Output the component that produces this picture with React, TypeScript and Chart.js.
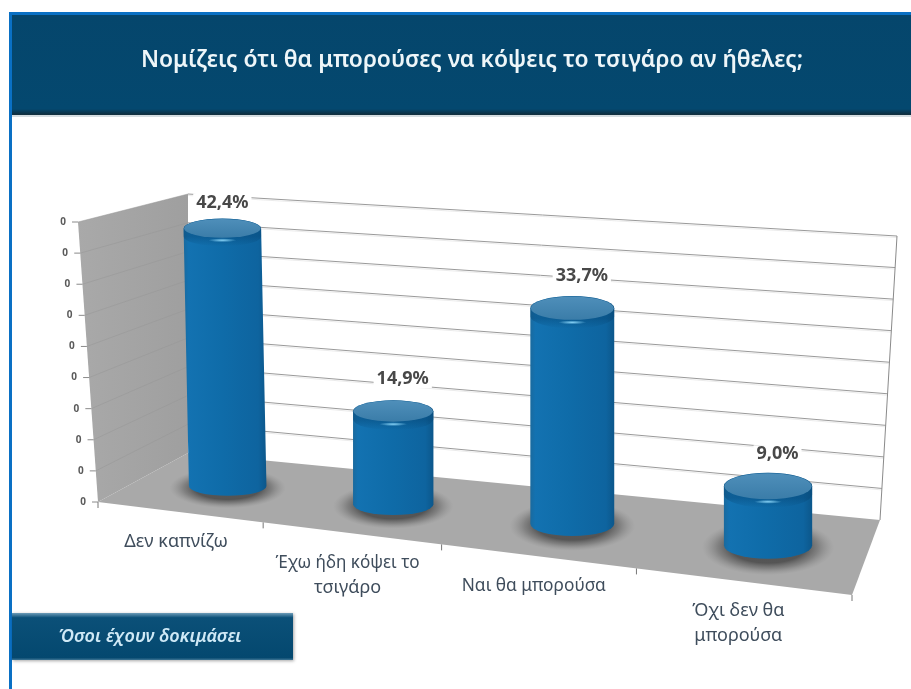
import React, { useEffect, useRef } from "react";
import { Chart, registerables } from "chart.js";

Chart.register(...registerables);

const titleText = "Νομίζεις ότι θα μπορούσες να κόψεις το τσιγάρο αν ήθελες;";
const badgeText = "Όσοι έχουν δοκιμάσει";
const categories = [["Δεν καπνίζω"], ["Έχω ήδη κόψει το", "τσιγάρο"], ["Ναι θα μπορούσα"], ["Όχι δεν θα", "μπορούσα"]];
const values = [42.4, 14.9, 33.7, 9.0];
const valueLabels = ["42,4%", "14,9%", "33,7%", "9,0%"];
const yTickLabels = ["0", "0", "0", "0", "0", "0", "0", "0", "0", "0"];
const yMax = 45;
const yStep = 5;

// view of the 3D box: floor corners and the upward vector of each corner
const FL = [98, 502], FR = [852, 595], BR = [880, 520], BL = [188, 453];
const UFL = [-20, -280], UFR = [28, -313], UBR = [17, -284], UBL = [0, -259];
const PERSPECTIVE = 0.6;
const BAR_SHIFT = 0.008;

function floorPoint(s: number, w: number) {
  const [x0, y0] = FL, [x1, y1] = FR, [x2, y2] = BR, [x3, y3] = BL;
  const dx1 = x1 - x2, dx2 = x3 - x2, sx = x0 - x1 + x2 - x3;
  const dy1 = y1 - y2, dy2 = y3 - y2, sy = y0 - y1 + y2 - y3;
  const den = dx1 * dy2 - dx2 * dy1;
  const g = (sx * dy2 - dx2 * sy) / den;
  const h = (dx1 * sy - sx * dy1) / den;
  const a = x1 - x0 + g * x1, b = x3 - x0 + h * x3;
  const d = y1 - y0 + g * y1, e = y3 - y0 + h * y3;
  const q = g * s + h * w + 1;
  const hx = (a * s + b * w + x0) / q, hy = (d * s + e * w + y0) / q;
  const lin = (i: number) =>
    (1 - s) * ((1 - w) * FL[i] + w * BL[i]) + s * ((1 - w) * FR[i] + w * BR[i]);
  return [PERSPECTIVE * hx + (1 - PERSPECTIVE) * lin(0), PERSPECTIVE * hy + (1 - PERSPECTIVE) * lin(1)];
}

function project(s: number, h: number, w: number) {
  const [fx, fy] = floorPoint(s, w);
  const mix = (i: number) =>
    (1 - s) * ((1 - w) * UFL[i] + w * UBL[i]) + s * ((1 - w) * UFR[i] + w * UBR[i]);
  return { x: fx + h * mix(0), y: fy + h * mix(1) };
}

function poly(ctx: CanvasRenderingContext2D, pts: { x: number; y: number }[]) {
  ctx.beginPath();
  pts.forEach((p, i) => (i ? ctx.lineTo(p.x, p.y) : ctx.moveTo(p.x, p.y)));
  ctx.closePath();
}

const scene = {
  id: "scene",
  beforeDraw(chart: any) {
    const ctx: CanvasRenderingContext2D = chart.ctx;
    const W = chart.width, H = chart.height;
    ctx.save();
    ctx.fillStyle = "#ffffff";
    ctx.fillRect(0, 0, W, H);
    // frame
    ctx.fillStyle = "#0a70c4";
    ctx.fillRect(9, 12, 3, H - 12);
    ctx.fillRect(9, 12, W - 9, 3);
    // header
    const hg = ctx.createLinearGradient(0, 15, 0, 116);
    hg.addColorStop(0, "#05466c");
    hg.addColorStop(0.93, "#04486f");
    hg.addColorStop(0.98, "#0d2f42");
    hg.addColorStop(1, "#23343d");
    ctx.fillStyle = hg;
    ctx.fillRect(12, 15, W - 12, 100);
    ctx.fillStyle = "#d5dde1";
    ctx.fillRect(12, 115, W - 12, 2);
    ctx.fillStyle = "#eef6f9";
    ctx.font = "600 24px 'Noto Sans'";
    ctx.textAlign = "center";
    ctx.textBaseline = "middle";
    ctx.fillText(titleText, 472, 60, 662);
    // badge
    ctx.shadowColor = "rgba(0,0,0,0.35)";
    ctx.shadowBlur = 3;
    ctx.shadowOffsetX = 1;
    ctx.shadowOffsetY = 1;
    const bg = ctx.createLinearGradient(0, 613, 0, 660);
    bg.addColorStop(0, "#6d9cb8");
    bg.addColorStop(0.1, "#0b5078");
    bg.addColorStop(0.95, "#04486f");
    bg.addColorStop(1, "#3f7695");
    ctx.fillStyle = bg;
    ctx.fillRect(12, 613, 281, 47);
    ctx.restore();
    ctx.save();
    ctx.fillStyle = "#cfe9f6";
    ctx.font = "italic 600 18px 'Noto Sans'";
    ctx.textAlign = "center";
    ctx.textBaseline = "middle";
    ctx.fillText(badgeText, 150, 637, 190);

    // side wall and floor
    const sg = ctx.createLinearGradient(78, 0, 188, 0);
    sg.addColorStop(0, "#a9a9a9");
    sg.addColorStop(1, "#9f9f9f");
    ctx.fillStyle = sg;
    poly(ctx, [project(0, 0, 0), project(0, 1, 0), project(0, 1, 1), project(0, 0, 1)]);
    ctx.fill();
    ctx.fillStyle = "#a9a9a9";
    poly(ctx, [project(0, 0, 0), project(1, 0, 0), project(1, 0, 1), project(0, 0, 1)]);
    ctx.fill();

    // grid from the value axis
    const yScale = chart.scales.y;
    const area = chart.chartArea;
    yScale.ticks.forEach((t: any, i: number) => {
      const h = (area.bottom - yScale.getPixelForValue(t.value)) / area.height;
      const a = project(0, h, 0), b = project(0, h, 1), c = project(1, h, 1);
      if (i > 0) {
        ctx.strokeStyle = "rgba(150,150,150,0.5)";
        ctx.lineWidth = 1;
        ctx.beginPath();
        ctx.moveTo(a.x, a.y);
        ctx.lineTo(b.x, b.y);
        ctx.stroke();
        ctx.strokeStyle = "#9a9a9a";
        ctx.beginPath();
        ctx.moveTo(b.x, b.y);
        ctx.lineTo(c.x, c.y);
        ctx.stroke();
        ctx.strokeStyle = "rgba(190,190,190,0.3)";
        ctx.beginPath();
        ctx.moveTo(b.x, b.y + 1.5);
        ctx.lineTo(c.x, c.y + 1.5);
        ctx.stroke();
      }
      ctx.strokeStyle = "#8a8a8a";
      ctx.beginPath();
      ctx.moveTo(a.x, a.y);
      ctx.lineTo(a.x - 6, a.y);
      ctx.stroke();
      ctx.fillStyle = "#5a5a5a";
      ctx.font = "bold 10px 'Noto Sans'";
      ctx.textAlign = "center";
      ctx.textBaseline = "middle";
      ctx.fillText(yTickLabels[i], a.x - 15, a.y);
    });
    // right edge of the back wall
    const r0 = project(1, 0, 1), r1 = project(1, 1, 1);
    ctx.strokeStyle = "#8a8a8a";
    ctx.lineWidth = 1;
    ctx.beginPath();
    ctx.moveTo(r0.x, r0.y);
    ctx.lineTo(r1.x, r1.y);
    ctx.stroke();

    // category ticks and labels
    const n = categories.length;
    ctx.strokeStyle = "#777777";
    for (let i = 0; i <= n; i++) {
      const p = project(i / n, 0, 0);
      ctx.beginPath();
      ctx.moveTo(p.x, p.y);
      ctx.lineTo(p.x, p.y + 6);
      ctx.stroke();
    }
    ctx.fillStyle = "#3f4d5c";
    ctx.font = "18px 'Noto Sans'";
    ctx.textBaseline = "middle";
    ctx.textAlign = "center";
    categories.forEach((lines, i) => {
      const p = project((i + 0.5) / n, 0, 0);
      lines.forEach((line, k) => ctx.fillText(line, p.x - 3, p.y + 30 + k * 24.5, 144));
    });
    ctx.restore();
  },
  afterDatasetsDraw(chart: any) {
    const ctx: CanvasRenderingContext2D = chart.ctx;
    const area = chart.chartArea;
    const meta = chart.getDatasetMeta(0);
    const boxes = meta.data.map((bar: any) => {
      const s = (bar.x - area.left) / area.width + BAR_SHIFT;
      const ds = bar.width / area.width / 2;
      const h = (bar.base - bar.y) / area.height;
      const base = project(s, 0, 0.5);
      const raw = project(s, h, 0.5);
      const top = { x: base.x + Math.min(0, raw.x - base.x), y: raw.y };
      const rx0 = (project(s + ds, 0, 0.5).x - project(s - ds, 0, 0.5).x) / 2;
      const rx = 0.5 * rx0 + 20;
      const ry = (project(s, 0, 0.31).y - project(s, 0, 0.69).y) / 2;
      return { base, top, rx, ry };
    });
    ctx.save();
    // contact shadows
    boxes.forEach((b: any) => {
      ctx.save();
      ctx.translate(b.base.x, b.base.y + 2);
      ctx.scale(1, (b.ry * 2.2) / (b.rx * 1.6));
      const g = ctx.createRadialGradient(0, 0, b.rx * 0.85, 0, 0, b.rx * 1.5);
      g.addColorStop(0, "rgba(70,70,70,0.85)");
      g.addColorStop(0.45, "rgba(90,90,90,0.5)");
      g.addColorStop(1, "rgba(130,130,130,0)");
      ctx.fillStyle = g;
      ctx.beginPath();
      ctx.arc(0, 0, b.rx * 1.5, 0, Math.PI * 2);
      ctx.fill();
      ctx.restore();
    });
    // cylinders
    boxes.forEach((b: any, i: number) => {
      const { base, top, rx, ry } = b;
      const g = ctx.createLinearGradient(Math.min(base.x, top.x) - rx, 0, Math.max(base.x, top.x) + rx, 0);
      g.addColorStop(0, "#1a6a9e");
      g.addColorStop(0.06, "#1372b1");
      g.addColorStop(0.45, "#0f6ca9");
      g.addColorStop(0.9, "#0e649f");
      g.addColorStop(1, "#0c578b");
      ctx.fillStyle = g;
      ctx.beginPath();
      ctx.moveTo(top.x - rx, top.y);
      ctx.lineTo(base.x - rx, base.y);
      ctx.ellipse(base.x, base.y, rx, ry, 0, Math.PI, 0, true);
      ctx.lineTo(top.x + rx, top.y);
      ctx.ellipse(top.x, top.y, rx, ry, 0, 0, Math.PI, true);
      ctx.closePath();
      ctx.fill();
      // darker rim under the cap
      const rim = ctx.createLinearGradient(0, top.y + ry - 2, 0, top.y + ry + 8);
      rim.addColorStop(0, "rgba(5,65,110,0.4)");
      rim.addColorStop(1, "rgba(5,65,110,0)");
      ctx.fillStyle = rim;
      ctx.beginPath();
      ctx.moveTo(top.x - rx, top.y);
      ctx.lineTo(top.x - rx, top.y + 8);
      ctx.ellipse(top.x, top.y + 8, rx, ry, 0, Math.PI, 0, true);
      ctx.lineTo(top.x + rx, top.y);
      ctx.ellipse(top.x, top.y, rx, ry, 0, 0, Math.PI, true);
      ctx.closePath();
      ctx.fill();
      // cap
      const c = ctx.createLinearGradient(0, top.y - ry, 0, top.y + ry);
      c.addColorStop(0, "#4f8fba");
      c.addColorStop(1, "#3a7ca8");
      ctx.fillStyle = c;
      ctx.beginPath();
      ctx.ellipse(top.x, top.y, rx - 0.5, ry - 0.5, 0, 0, Math.PI * 2);
      ctx.fill();
      // highlight on the bevel
      const hl = ctx.createRadialGradient(0, 0, 0, 0, 0, 14);
      hl.addColorStop(0, "rgba(140,215,250,0.95)");
      hl.addColorStop(1, "rgba(140,215,250,0)");
      ctx.save();
      ctx.translate(top.x, top.y + ry + 2);
      ctx.scale(1, 0.14);
      ctx.fillStyle = hl;
      ctx.beginPath();
      ctx.arc(0, 0, 14, 0, Math.PI * 2);
      ctx.fill();
      ctx.restore();
      // value label
      const lx = top.x + (i === 0 ? 0 : 9.5);
      const ly = top.y - (i === 0 ? 26 : 32);
      ctx.font = "bold 18px 'Noto Sans'";
      ctx.textAlign = "center";
      ctx.textBaseline = "middle";
      const tw = Math.min(ctx.measureText(valueLabels[i]).width, 56);
      ctx.fillStyle = "#ffffff";
      ctx.fillRect(lx - tw / 2 - 3, ly - 9, tw + 6, 18);
      ctx.fillStyle = "#484848";
      ctx.fillText(valueLabels[i], lx, ly, 56);
    });
    ctx.restore();
  },
};

export default function App() {
  const ref = useRef<HTMLCanvasElement>(null);
  useEffect(() => {
    const chart = new Chart(ref.current as HTMLCanvasElement, {
      type: "bar",
      data: {
        labels: categories as any,
        datasets: [
          {
            data: values,
            backgroundColor: "transparent",
            borderWidth: 0,
            barPercentage: 0.47,
            categoryPercentage: 1,
          },
        ],
      },
      options: {
        animation: false,
        responsive: false,
        events: [],
        layout: { padding: 0 },
        plugins: { legend: { display: false }, tooltip: { enabled: false }, title: { display: false } },
        scales: {
          x: { display: false },
          y: { display: false, min: 0, max: yMax, ticks: { stepSize: yStep } },
        },
      },
      plugins: [scene],
    } as any);
    return () => chart.destroy();
  }, []);
  return (
    <div style={{ position: "absolute", left: 0, top: 0, width: 911, height: 689 }}>
      <canvas ref={ref} width={911} height={689} style={{ display: "block", filter: "blur(0.4px)" }} />
    </div>
  );
}
